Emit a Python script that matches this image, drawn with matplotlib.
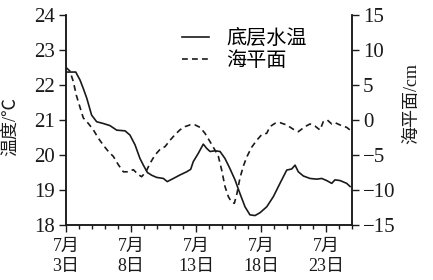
import matplotlib
matplotlib.use("Agg")
import matplotlib.pyplot as plt
from matplotlib.ticker import MultipleLocator

plt.rcParams['font.family'] = ['Liberation Serif', 'Noto Sans CJK SC', 'DejaVu Sans']

# Day offsets from 7/3
temp_days = [0, 0.75, 1.08, 1.33, 1.6, 1.97, 2.36, 2.87, 3.38, 3.9, 4.54, 4.92, 5.31, 5.69,
             5.95, 6.26, 6.6, 6.97, 7.49, 7.79, 8.26, 8.77, 9.28, 9.59, 9.79, 10.18, 10.56,
             10.82, 11.08, 11.46, 11.85, 12.23, 12.6, 13.0, 13.38, 13.77, 14.15, 14.54, 14.92,
             15.44, 15.95, 16.46, 16.98, 17.36, 17.62, 17.87, 18.26, 18.77, 19.28, 19.67,
             20.05, 20.44, 20.69, 21.08, 21.59, 21.85]
temp_vals = [22.37, 22.37, 22.14, 21.9, 21.62, 21.14, 20.95, 20.9, 20.84, 20.71, 20.69, 20.57,
             20.29, 19.9, 19.71, 19.5, 19.42, 19.36, 19.33, 19.24, 19.33, 19.43, 19.52, 19.59,
             19.81, 20.05, 20.31, 20.19, 20.1, 20.12, 20.1, 19.9, 19.62, 19.29, 18.9, 18.52,
             18.29, 18.27, 18.35, 18.52, 18.81, 19.19, 19.57, 19.6, 19.71, 19.52, 19.4, 19.33,
             19.31, 19.33, 19.27, 19.19, 19.29, 19.27, 19.19, 19.1]

sea_days = [0, 0.3, 0.56, 0.8, 1.08, 1.33, 1.72, 2.1, 2.49, 2.87, 3.26, 3.64, 4.03, 4.41,
            4.79, 5.18, 5.56, 5.82, 6.15, 6.46, 6.85, 7.23, 7.62, 8.0, 8.38, 8.77, 9.15,
            9.54, 9.92, 10.31, 10.69, 11.08, 11.46, 11.72, 11.97, 12.23, 12.49, 12.74, 12.95,
            13.15, 13.38, 13.64, 13.9, 14.28, 14.67, 15.05, 15.44, 15.69, 16.08, 16.46,
            16.98, 17.49, 17.87, 18.38, 18.77, 19.15, 19.54, 19.79, 20.1, 20.44, 20.69,
            21.08, 21.59, 21.85]
sea_vals = [7.5, 7.0, 5.5, 3.5, 1.8, 0.3, -0.5, -1.4, -2.6, -3.6, -4.5, -5.2, -6.4, -7.4,
            -7.4, -7.1, -7.8, -8.1, -7.4, -6.2, -5.0, -4.2, -3.8, -2.9, -2.1, -1.4, -0.95,
            -0.7, -0.7, -1.05, -1.9, -3.1, -4.3, -5.2, -7.1, -9.5, -10.95, -11.75, -11.9,
            -10.5, -8.3, -6.6, -5.3, -3.9, -2.9, -2.1, -1.9, -0.95, -0.47, -0.38, -0.71,
            -1.33, -1.67, -0.95, -0.57, -0.86, -1.43, -0.24, 0, -0.57, -0.38, -0.71, -1.05,
            -1.43]

xtick_pos = [0, 5, 10, 15, 20]
xtick_labels = ["7月\n3日", "7月\n8日", "7月\n13日", "7月\n18日", "7月\n23日"]
left_ticks = [18, 19, 20, 21, 22, 23, 24]
right_ticks = [-15, -10, -5, 0, 5, 10, 15]

W, H = 433, 280
fig = plt.figure(figsize=(W / 100, H / 100), dpi=100)
ax = fig.add_axes([66 / W, 1 - 225 / H, (352 - 66) / W, (225 - 15) / H])
ax2 = ax.twinx()

col = '#1a1a1a'
l1, = ax.plot(temp_days, temp_vals, color=col, lw=1.2, label='底层水温')
l2, = ax2.plot(sea_days, sea_vals, color=col, lw=1.2, ls=(0, (3.5, 2.5)), label='海平面')

ax.set_xlim(0, 22)
ax.set_ylim(18, 24)
ax2.set_ylim(-15, 15)

fs = 15
ax.set_yticks(left_ticks)
ax.set_yticklabels([str(v) for v in left_ticks], fontsize=fs)
ax2.set_yticks(right_ticks)
ax2.set_yticklabels([("\u2212" + str(-v) if v < 0 else str(v)) for v in right_ticks], fontsize=fs)
ax.set_xticks(xtick_pos)
ax.set_xticklabels(xtick_labels, fontsize=13, linespacing=1.3)
ax.xaxis.set_minor_locator(MultipleLocator(1))

for a in (ax, ax2):
    a.spines['top'].set_visible(False)
    for s in a.spines.values():
        s.set_color(col)
        s.set_linewidth(1.1)
ax.tick_params(axis='x', which='major', direction='out', length=5, width=1.0, pad=4, colors=col)
ax.tick_params(axis='x', which='minor', direction='out', length=3, width=1.0, colors=col)
ax.tick_params(axis='y', direction='out', length=5, width=1.0, pad=3, colors=col)
ax2.tick_params(axis='y', direction='out', length=5, width=1.0, pad=3, colors=col)

ax.set_ylabel('温度/℃', fontsize=13, color=col)
ax.yaxis.set_label_coords(-0.165, 0.47)
ax2.set_ylabel('海平面/cm', fontsize=13, color=col)
ax2.yaxis.set_label_coords(1.18, 0.58)

fig.legend(handles=[l1, l2], loc='upper left', bbox_to_anchor=(182 / W, 1 - 30 / H),
           frameon=False, fontsize=14.5, handlelength=1.35, handletextpad=0.85,
           labelspacing=0.15, borderpad=0, borderaxespad=0)

fig.savefig('out.png', dpi=100)
